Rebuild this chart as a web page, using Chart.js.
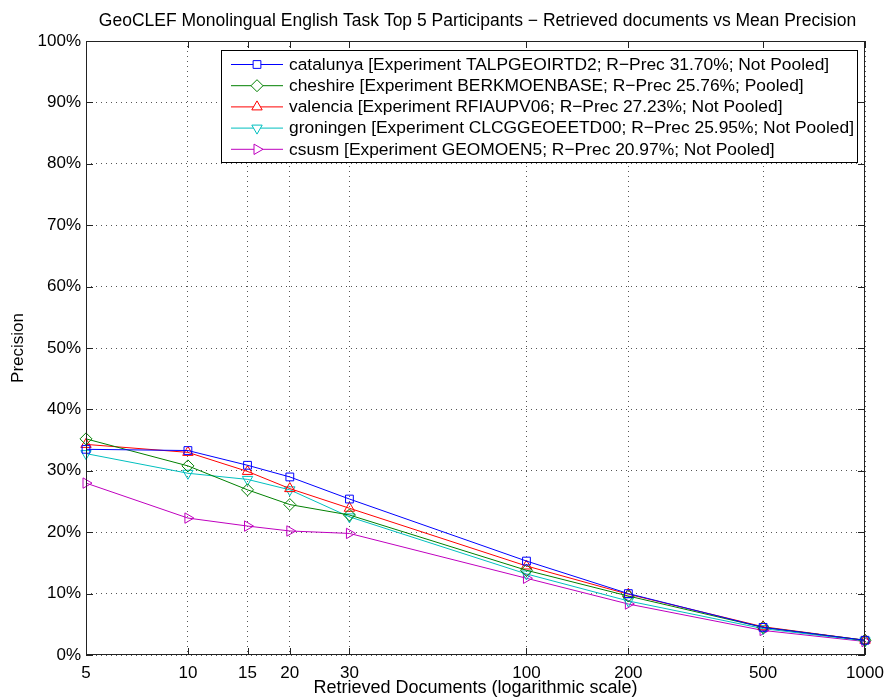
<!DOCTYPE html>
<html>
<head>
<meta charset="utf-8">
<script src="https://cdn.jsdelivr.net/npm/chart.js@4/dist/chart.umd.min.js"></script>
<style>
  body { margin: 0; background: #fff; }
  #wrap { width: 885px; height: 699px; }
</style>
</head>
<body>
<div id="wrap"><canvas id="chart" width="885" height="699"></canvas></div>
<script>
// valores (precisão média em %)
const docCounts = [5, 10, 15, 20, 30, 100, 200, 500, 1000];
const xTickLabels = ['5', '10', '15', '20', '30', '100', '200', '500', '1000'];

const catalunya = [33.5, 33.3, 30.9, 29.0, 25.4, 15.3, 10.0, 4.5, 2.4];
const cheshire  = [35.2, 30.8, 26.9, 24.5, 22.8, 13.8, 9.6, 4.5, 2.4];
const valencia  = [34.3, 33.0, 29.9, 27.1, 23.9, 14.5, 9.9, 4.6, 2.4];
const groningen = [32.8, 29.6, 28.6, 26.9, 22.5, 13.2, 8.8, 4.3, 2.3];
const csusm     = [28.0, 22.3, 21.0, 20.2, 19.8, 12.5, 8.3, 4.0, 2.2];

const seriesNames = [
    'catalunya [Experiment TALPGEOIRTD2; R\u2212Prec 31.70%; Not Pooled]',
    'cheshire [Experiment BERKMOENBASE; R\u2212Prec 25.76%; Pooled]',
    'valencia [Experiment RFIAUPV06; R\u2212Prec 27.23%; Not Pooled]',
    'groningen [Experiment CLCGGEOEETD00; R\u2212Prec 25.95%; Not Pooled]',
    'csusm [Experiment GEOMOEN5; R\u2212Prec 20.97%; Not Pooled]'
];

const FONT = "'Liberation Sans', Arial, Helvetica, sans-serif";
Chart.defaults.font.family = FONT;
Chart.defaults.font.size = 17;
Chart.defaults.color = '#000';

const styles = [
    { color: '#0000ff', pointStyle: 'rect', rotation: 0, radius: 5.5 },
    { color: '#008000', pointStyle: 'rectRot', rotation: 0, radius: 6 },
    { color: '#ff0000', pointStyle: 'triangle', rotation: 0, radius: 6 },
    { color: '#00bfbf', pointStyle: 'triangle', rotation: 180, radius: 6 },
    { color: '#bf00bf', pointStyle: 'triangle', rotation: 90, radius: 6 }
];

const allSeries = [catalunya, cheshire, valencia, groningen, csusm];

const datasets = allSeries.map((values, i) => ({
    label: seriesNames[i],
    data: values.map((v, j) => ({ x: docCounts[j], y: v })),
    borderColor: styles[i].color,
    backgroundColor: 'transparent',
    borderWidth: 1,
    tension: 0,
    pointStyle: styles[i].pointStyle,
    pointRotation: styles[i].rotation,
    pointRadius: styles[i].radius,
    pointBorderWidth: 1,
    pointBorderColor: styles[i].color,
    pointBackgroundColor: 'transparent',
    clip: false
}));

// moldura, marcas internas e legenda estilo matlab
const framePlugin = {
    id: 'frame',
    afterLayout(chart) {
        // centraliza o título sobre a área do gráfico
        if (chart.titleBlock) {
            chart.titleBlock.left = chart.chartArea.left + 2;
            chart.titleBlock.right = chart.chartArea.right + 2;
        }
    },
    afterDatasetsDraw(chart) {
        const { ctx, chartArea: a, scales } = chart;
        const len = 7;
        ctx.save();
        ctx.strokeStyle = '#222';
        ctx.lineWidth = 1;
        ctx.setLineDash([]);
        ctx.strokeRect(a.left + 0.5, a.top + 0.5, a.right - a.left - 1, a.bottom - a.top - 1);
        ctx.beginPath();
        scales.x.ticks.forEach(t => {
            const px = Math.round(scales.x.getPixelForValue(t.value)) + 0.5;
            ctx.moveTo(px, a.bottom); ctx.lineTo(px, a.bottom - len);
            ctx.moveTo(px, a.top); ctx.lineTo(px, a.top + len);
        });
        scales.y.ticks.forEach(t => {
            const py = Math.round(scales.y.getPixelForValue(t.value)) + 0.5;
            ctx.moveTo(a.left, py); ctx.lineTo(a.left + len, py);
            ctx.moveTo(a.right, py); ctx.lineTo(a.right - len, py);
        });
        ctx.stroke();
        ctx.restore();
    },
    afterDraw(chart) {
        const { ctx, chartArea: a } = chart;
        const boxRight = a.right - 8;
        const boxLeft = a.left + 135;
        const boxTop = a.top + 9;
        const rowH = 21.2;
        const boxH = 112;
        ctx.save();
        ctx.setLineDash([]);
        ctx.fillStyle = '#fff';
        ctx.fillRect(boxLeft, boxTop, boxRight - boxLeft, boxH);
        ctx.strokeStyle = '#000';
        ctx.lineWidth = 1;
        ctx.strokeRect(boxLeft + 0.5, boxTop + 0.5, boxRight - boxLeft, boxH);
        ctx.font = '17.4px ' + FONT;
        ctx.textBaseline = 'middle';
        ctx.textAlign = 'left';
        chart.data.datasets.forEach((ds, i) => {
            const y = boxTop + 14 + i * rowH;
            const x0 = boxLeft + 10;
            ctx.strokeStyle = ds.borderColor;
            ctx.lineWidth = 1;
            ctx.beginPath();
            ctx.moveTo(x0, y + 0.5);
            ctx.lineTo(x0 + 52, y + 0.5);
            ctx.stroke();
            ctx.fillStyle = '#fff';
            ctx.strokeStyle = ds.borderColor;
            Chart.helpers.drawPoint(ctx, {
                pointStyle: ds.pointStyle,
                rotation: ds.pointRotation,
                radius: ds.pointRadius,
                borderWidth: 1
            }, x0 + 26, y + 0.5);
            ctx.fillStyle = '#000';
            ctx.fillText(ds.label, x0 + 58, y + 1);
        });
        ctx.restore();
    }
};

new Chart(document.getElementById('chart'), {
    type: 'line',
    data: { datasets: datasets },
    options: {
        responsive: false,
        animation: false,
        layout: { padding: { left: 0, right: 20, top: 0, bottom: 0 } },
        plugins: {
            legend: { display: false },
            tooltip: { enabled: false },
            title: {
                display: true,
                text: 'GeoCLEF Monolingual English Task Top 5 Participants \u2212 Retrieved documents vs Mean Precision',
                font: { size: 17.5, weight: 'normal' },
                color: '#000',
                padding: { top: 11, bottom: 9 }
            }
        },
        scales: {
            x: {
                type: 'logarithmic',
                min: 5,
                max: 1000,
                afterBuildTicks: scale => {
                    scale.ticks = docCounts.map(v => ({ value: v }));
                },
                afterFit: scale => {
                    scale.height = 44;
                    scale.paddingLeft = 0;
                    scale.paddingRight = 0;
                },
                ticks: {
                    autoSkip: false,
                    maxRotation: 0,
                    padding: 8,
                    callback: function(value) {
                        const idx = docCounts.indexOf(value);
                        return idx >= 0 ? xTickLabels[idx] : '';
                    }
                },
                grid: { color: '#555', lineWidth: 1, drawTicks: false },
                border: { display: false, dash: [1, 4] },
                title: {
                    display: true,
                    text: 'Retrieved Documents (logarithmic scale)',
                    font: { size: 18 },
                    padding: { top: 0, bottom: 0 }
                }
            },
            y: {
                min: 0,
                max: 100,
                afterFit: scale => {
                    scale.width = 86;
                    scale.paddingTop = 0;
                    scale.paddingBottom = 0;
                },
                ticks: {
                    stepSize: 10,
                    padding: 5,
                    callback: v => v + '%'
                },
                grid: { color: '#555', lineWidth: 1, drawTicks: false },
                border: { display: false, dash: [1, 4] },
                title: {
                    display: true,
                    text: 'Precision',
                    font: { size: 17 },
                    padding: { top: 8, bottom: 0 }
                }
            }
        }
    },
    plugins: [framePlugin]
});
</script>
</body>
</html>
